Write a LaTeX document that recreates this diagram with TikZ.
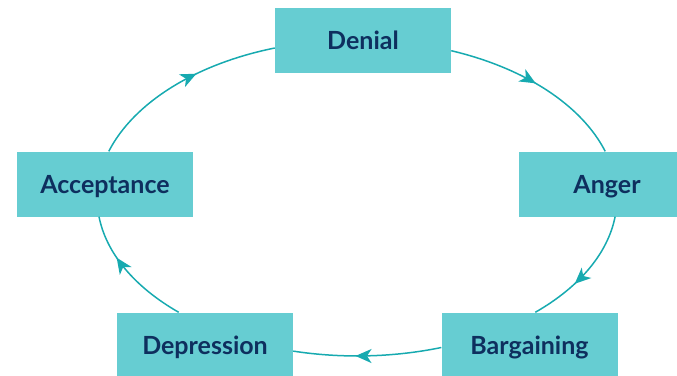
\documentclass[tikz,border=0pt]{standalone}
\usepackage{fontspec}
\setmainfont{Lato}
\usetikzlibrary{arrows.meta,decorations.markings}
\definecolor{boxfill}{HTML}{66CDD2}
\definecolor{linecol}{HTML}{17AAB0}
\definecolor{textcol}{HTML}{0E2F5E}
\tikzset{
  stage/.style={fill=boxfill, draw=none, minimum width=176pt, minimum height=65pt,
    inner sep=0pt, text height=18pt, text depth=0pt, text=textcol,
    font=\fontsize{25}{28}\selectfont\bfseries},
  flow/.style={draw=linecol, line width=1.5pt,
    decoration={markings, mark=at position #1 with {\arrow[linecol]{Stealth[length=16pt,width=14pt,inset=4.5pt]}}},
    postaction={decorate}},
  flow/.default=0.5
}
\begin{document}
\begin{tikzpicture}[x=1pt,y=1pt]
\useasboundingbox (0,0) rectangle (677,-375);
\clip (0,0) rectangle (677,-375);
\node[stage] (denial) at (363,-40) {Denial};
\node[stage] (anger) at (607,-184) {Anger};
\node[stage] (bargaining) at (529.5,-345) {Bargaining};
\node[stage] (depression) at (205,-345) {Depression};
\node[stage] (acceptance) at (105,-184) {Acceptance};
\draw[flow=0.48] ([yshift=-10.7]denial.east) .. controls +(-13.3:75.9) and +(117.2:51.7) .. ([xshift=-1.8]anger.north);
\draw[flow=0.62] ([xshift=8.1]anger.south) .. controls +(-101.3:37.4) and +(29.8:51.0) .. ([xshift=5.8]bargaining.north);
\draw[flow=0.58] ([yshift=-2.5]bargaining.west) .. controls +(-168.3:48.6) and +(-8.8:49.3) .. ([yshift=-6.1]depression.east);
\draw[flow=0.65] ([xshift=-26.3]depression.north) .. controls +(150.2:51.0) and +(-78.7:37.4) .. ([xshift=-6]acceptance.south);
\draw[flow=0.59] ([xshift=3.8]acceptance.north) .. controls +(62.8:54.6) and +(191.4:81.0) .. ([yshift=-8]denial.west);
\end{tikzpicture}
\end{document}
